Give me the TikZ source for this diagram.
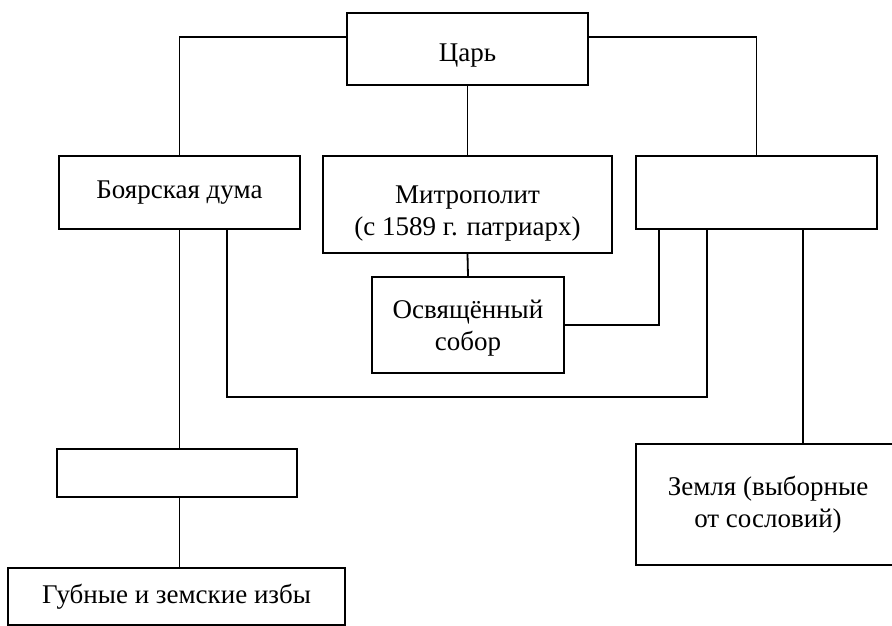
\documentclass[tikz,border=0pt]{standalone}
\usepackage{fontspec}
\setmainfont{Liberation Serif}
\usetikzlibrary{calc}
\newcommand{\lowertext}[2]{\raisebox{-#1}[\height][\depth]{#2}}
\begin{document}
\begin{tikzpicture}[x=1pt,y=-1pt,
  box/.style={draw, line width=1.8pt, rectangle, align=center, inner sep=0pt,
    font=\fontsize{27}{32}\selectfont},
  conn/.style={line width=1.8pt}]
\useasboundingbox (0,0) rectangle (892,626);
\fill[white] (0,0) rectangle (892,626);
\clip (0,0) rectangle (892,626);
\node[box, minimum width=241pt, minimum height=72pt] (tsar) at (467.5,49) {\lowertext{7pt}{Царь}};
\node[box, minimum width=241pt, minimum height=73pt] (duma) at (179.5,192.5) {Боярская дума};
\node[box, minimum width=289pt, minimum height=97pt] (mitr) at (467.5,204.5) {\lowertext{9pt}{\begin{tabular}{@{}c@{}}Митрополит\\(с 1589 г. патриарх)\end{tabular}}};
\node[box, minimum width=241pt, minimum height=73pt] (rb) at (756.5,192.5) {};
\node[box, minimum width=192pt, minimum height=96pt] (sobor) at (468,325) {\lowertext{3pt}{\begin{tabular}{@{}c@{}}Освящённый\\собор\end{tabular}}};
\node[box, minimum width=240pt, minimum height=48pt] (empty) at (177,473) {};
\node[box, minimum width=337pt, minimum height=57pt] (gub) at (176.5,596.5) {Губные и земские избы};
\node[box, minimum width=264pt, minimum height=121pt] (zem) at (768,504.5) {Земля (выборные\\от сословий)};
\coordinate (ty) at (0,37);
\coordinate (by) at (0,397);
\coordinate (d1) at ($(duma.south west)+(169,0)$);
\coordinate (r1) at ($(rb.south west)+(72,0)$);
\coordinate (r0) at ($(rb.south west)+(24,0)$);
\coordinate (r2) at ($(rb.south west)+(168,0)$);
\draw[conn] (tsar.west |- ty) -| (duma.north);
\draw[conn] (tsar.east |- ty) -| (rb.north);
\draw[conn] (tsar.south) -- (mitr.north);
\draw[conn] (mitr.south) -- (sobor.north);
\draw[conn] (sobor.east) -| (r0);
\draw[conn] (d1) |- (r1 |- by) -- (r1);
\draw[conn] (duma.south) -- (duma.south |- empty.north);
\draw[conn] (duma.south |- empty.south) -- (duma.south |- gub.north);
\draw[conn] (r2) -- (r2 |- zem.north);
\end{tikzpicture}
\end{document}
